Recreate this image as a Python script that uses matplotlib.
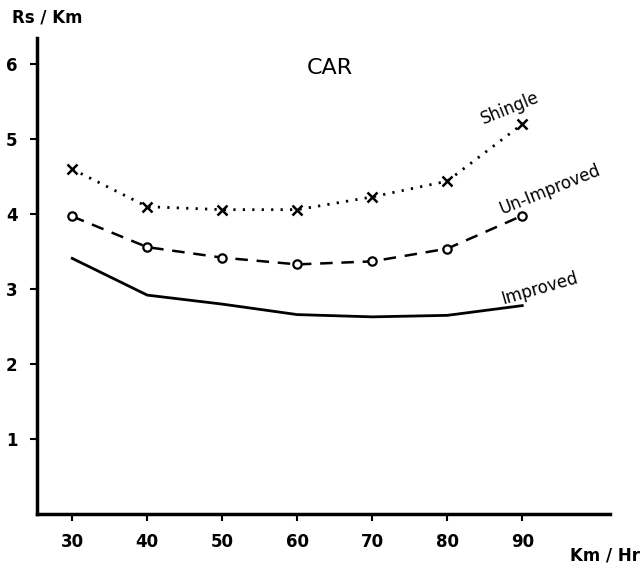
import numpy as np
import matplotlib
matplotlib.use("Agg")
import matplotlib.pyplot as plt

# speed in Km/Hr and running cost in Rs/Km
speed = [30, 40, 50, 60, 70, 80, 90]
shingle = [4.60, 4.10, 4.06, 4.06, 4.23, 4.44, 5.2]
unimproved = [3.97, 3.56, 3.42, 3.33, 3.37, 3.54, 3.98]
improved = [3.41, 2.92, 2.80, 2.66, 2.63, 2.65, 2.78]

xticks = [30, 40, 50, 60, 70, 80, 90]
yticks = [1, 2, 3, 4, 5, 6]

fig = plt.figure(figsize=(6.43, 5.73), dpi=100)
ax = fig.add_axes([37/643, 1-514/573, (610-37)/643, (514-38)/573])

ax.plot(speed, shingle, color='k', lw=2, linestyle=(0, (0.8, 2.6)),
        marker='x', ms=7, mew=1.8)
ax.plot(speed, unimproved, color='k', lw=1.8, linestyle=(0, (5, 3.5)),
        marker='o', ms=6, mfc='white', mew=1.6)
ax.plot(speed, improved, color='k', lw=2)

ax.set_xlim(25.3, 101.7)
ax.set_ylim(0, 6.35)
ax.set_xticks(xticks)
ax.set_yticks(yticks)
for s in ['top', 'right']:
    ax.spines[s].set_visible(False)
for s in ['left', 'bottom']:
    ax.spines[s].set_linewidth(2.5)
ax.tick_params(axis='both', direction='out', length=5, width=1.5, pad=9,
               labelsize=12)
for lab in ax.get_xticklabels() + ax.get_yticklabels():
    lab.set_fontweight('bold')

fig.text(47/643, 1-17/573, 'Rs / Km', fontsize=12, fontweight='bold',
         ha='center', va='center')
fig.text(605/643, 1-556/573, 'Km / Hr', fontsize=12, fontweight='bold',
         ha='center', va='center')
fig.text(330/643, 1-68/573, 'CAR', fontsize=16, fontweight='medium',
         ha='center', va='center')
fig.text(510/643, 1-108/573, 'Shingle', fontsize=12, rotation=22,
         ha='center', va='center')
fig.text(550/643, 1-190/573, 'Un-Improved', fontsize=12, rotation=22,
         ha='center', va='center')
fig.text(540/643, 1-288/573, 'Improved', fontsize=12, rotation=16,
         ha='center', va='center')

fig.savefig('out.png', dpi=100)
